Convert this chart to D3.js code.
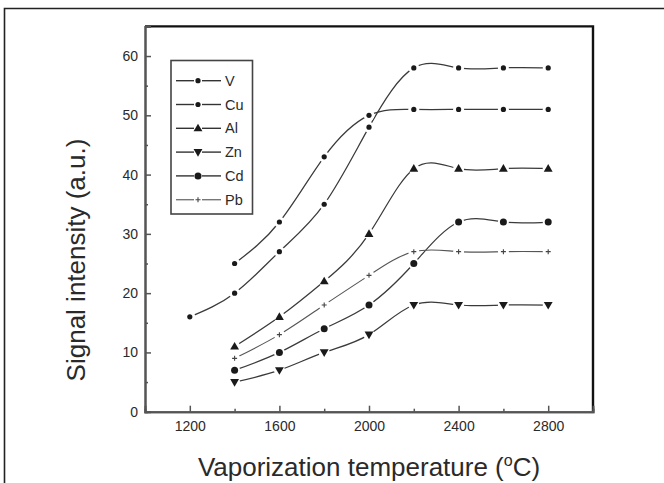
<!DOCTYPE html>
<html>
<head>
<meta charset="utf-8">
<script src="https://cdn.jsdelivr.net/npm/d3@7"></script>
<style>
  html, body { margin: 0; padding: 0; background: #fff; }
  svg { display: block; }
  text { font-family: "Liberation Sans", Arial, sans-serif; fill: #2a2a2a; }
</style>
</head>
<body>
<svg id="chart" width="664" height="483"></svg>
<script>
// Vaporization temperature (°C) and signal intensity (a.u.) per element
const temperatures = [1200, 1400, 1600, 1800, 2000, 2200, 2400, 2600, 2800];
const seriesNames = ["V", "Cu", "Al", "Zn", "Cd", "Pb"];
const valuesV  = [16, 20, 27, 35, 48, 58, 58, 58, 58];
const valuesCu = [null, 25, 32, 43, 50, 51, 51, 51, 51];
const valuesAl = [null, 11, 16, 22, 30, 41, 41, 41, 41];
const valuesZn = [null, 5, 7, 10, 13, 18, 18, 18, 18];
const valuesCd = [null, 7, 10, 14, 18, 25, 32, 32, 32];
const valuesPb = [null, 9, 13, 18, 23, 27, 27, 27, 27];
const xTickValues = [1200, 1600, 2000, 2400, 2800];
const xMinorTicks = [1400, 1800, 2200, 2600];
const yTickValues = [0, 10, 20, 30, 40, 50, 60];
const yMinorTicks = [5, 15, 25, 35, 45, 55];
const xTitle = "Vaporization temperature (";
const yTitle = "Signal intensity (a.u.)";

const seriesValues = [valuesV, valuesCu, valuesAl, valuesZn, valuesCd, valuesPb];
const markerTypes = ["dot", "dot", "triUp", "triDown", "circle", "plus"];

const svg = d3.select("#chart");

// plot area
const plotLeft = 145, plotRight = 593, plotTop = 26.4, plotBottom = 411.7;
const x = d3.scaleLinear().domain([1000, 3000]).range([plotLeft, plotRight]);
const y = d3.scaleLinear().domain([0, 65]).range([plotBottom, plotTop]);

// outer frame (open on the right and bottom)
svg.append("path")
  .attr("d", "M4.5,483 V8.5 H664")
  .attr("fill", "none").attr("stroke", "#222").attr("stroke-width", 1.6);

// top and right border of the plot
svg.append("path")
  .attr("d", `M${plotLeft},${plotTop} H${plotRight} V${plotBottom}`)
  .attr("fill", "none").attr("stroke", "#111").attr("stroke-width", 2.4);

// axes, ticks pointing inward
const fontTick = 14;
const gx = svg.append("g").attr("transform", `translate(0,${plotBottom})`)
  .call(d3.axisBottom(x).tickValues(xTickValues).tickSize(-6).tickPadding(9).tickFormat(d3.format("d")));
const gxMinor = svg.append("g").attr("transform", `translate(0,${plotBottom})`)
  .call(d3.axisBottom(x).tickValues(xMinorTicks).tickSize(-3).tickFormat(""));
const gy = svg.append("g").attr("transform", `translate(${plotLeft},0)`)
  .call(d3.axisLeft(y).tickValues(yTickValues).tickSize(-6).tickPadding(7).tickFormat(d3.format("d")));
const gyMinor = svg.append("g").attr("transform", `translate(${plotLeft},0)`)
  .call(d3.axisLeft(y).tickValues(yMinorTicks).tickSize(-3).tickFormat(""));

[gx, gxMinor, gy, gyMinor].forEach(g => {
  g.select(".domain").attr("stroke", "#555").attr("stroke-width", 2);
  g.selectAll(".tick line").attr("stroke", "#555").attr("stroke-width", 1.5);
  g.selectAll(".tick text")
    .style("font-family", '"Liberation Sans", Arial, sans-serif')
    .style("font-size", fontTick + "px").attr("fill", "#333");
});

// axis titles
const xt = svg.append("text")
  .attr("x", (plotLeft + plotRight) / 2).attr("y", 476)
  .attr("text-anchor", "middle").style("font-size", "26px");
xt.append("tspan").text(xTitle);
xt.append("tspan").text("o").style("font-size", "16px").attr("dy", -10);
xt.append("tspan").text("C)").attr("dy", 10);

svg.append("text")
  .attr("transform", `translate(85,260) rotate(-90)`)
  .attr("text-anchor", "middle").style("font-size", "26px")
  .text(yTitle);

// marker drawing
function drawMarker(g, type, cx, cy) {
  const ink = "#1a1a1a";
  if (type === "dot") {
    g.append("circle").attr("cx", cx).attr("cy", cy).attr("r", 2.6).attr("fill", ink);
  } else if (type === "circle") {
    g.append("circle").attr("cx", cx).attr("cy", cy).attr("r", 3.5).attr("fill", ink);
  } else if (type === "triUp") {
    g.append("path").attr("d", d3.symbol(d3.symbolTriangle, 34)()).attr("transform", `translate(${cx},${cy + 0.5})`).attr("fill", ink);
  } else if (type === "triDown") {
    g.append("path").attr("d", d3.symbol(d3.symbolTriangle, 34)()).attr("transform", `translate(${cx},${cy - 0.5}) rotate(180)`).attr("fill", ink);
  } else if (type === "plus") {
    g.append("path").attr("d", `M${cx - 2.5},${cy} H${cx + 2.5} M${cx},${cy - 2.5} V${cy + 2.5}`)
      .attr("stroke", "#444").attr("stroke-width", 1.1).attr("fill", "none");
  }
}

// series: spline through points, with a small gap around each marker
const line = d3.line()
  .defined(d => d.v != null)
  .x(d => x(d.t)).y(d => y(d.v))
  .curve(d3.curveNatural);

seriesValues.forEach((vals, i) => {
  const pts = temperatures.map((t, j) => ({ t, v: vals[j] })).filter(d => d.v != null);
  const g = svg.append("g");
  const isPb = seriesNames[i] === "Pb";
  g.append("path").datum(pts).attr("d", line)
    .attr("fill", "none")
    .attr("stroke", isPb ? "#555" : "#3a3a3a")
    .attr("stroke-width", isPb ? 1.1 : 1.25);
  pts.forEach(d => {
    g.append("circle").attr("cx", x(d.t)).attr("cy", y(d.v)).attr("r", 5.5).attr("fill", "#fff");
  });
  pts.forEach(d => drawMarker(g, markerTypes[i], x(d.t), y(d.v)));
});

// legend
const lg = svg.append("g");
lg.append("rect").attr("x", 171).attr("y", 60.5).attr("width", 81.5).attr("height", 153.5)
  .attr("fill", "#fff").attr("stroke", "#444").attr("stroke-width", 1.6);
seriesNames.forEach((name, i) => {
  const ly = 80.7 + i * 23.8;
  const isPb = name === "Pb";
  const col = isPb ? "#777" : "#333";
  lg.append("line").attr("x1", 176).attr("x2", 194).attr("y1", ly).attr("y2", ly)
    .attr("stroke", col).attr("stroke-width", 1.4);
  lg.append("line").attr("x1", 202).attr("x2", 221).attr("y1", ly).attr("y2", ly)
    .attr("stroke", col).attr("stroke-width", 1.4);
  drawMarker(lg, markerTypes[i], 198, ly);
  lg.append("text").attr("x", 225).attr("y", ly + 5)
    .style("font-size", "14.5px").text(name);
});
</script>
</body>
</html>
